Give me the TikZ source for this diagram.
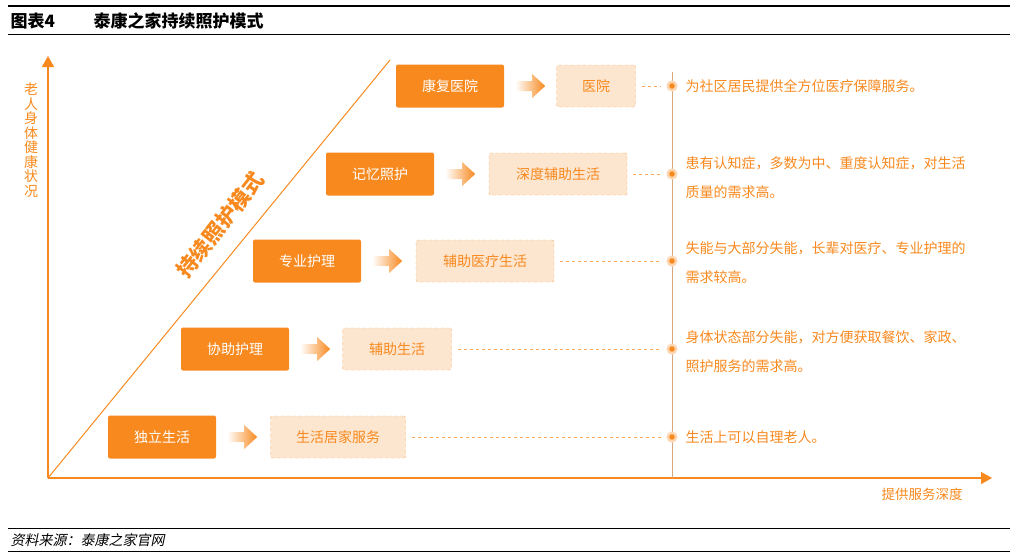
\documentclass[tikz,border=0pt]{standalone}
\usepackage{fontspec}
\setmainfont{Noto Sans CJK SC}
\newfontfamily\slcjk{Noto Sans CJK SC}[FakeSlant=0.2]
\usetikzlibrary{arrows.meta,calc}
\definecolor{og}{HTML}{F7891E}
\definecolor{lt}{HTML}{FDE6D0}
\definecolor{vl}{HTML}{D9A57A}
\begin{document}
\begin{tikzpicture}[x=1pt,y=-1pt,
 dark/.style={fill=og,rounded corners=2pt,minimum width=108pt,minimum height=43pt,text=white,font=\fontsize{14}{16}\selectfont},
 light/.style={fill=lt,draw=og!70,dashed,rounded corners=2pt,minimum height=42pt,text=og,font=\fontsize{14}{16}\selectfont},
 dot/.style={circle,fill=og,draw=og!35,line width=2.5pt,inner sep=3pt},
 desc/.style={anchor=west,text=og,font=\fontsize{14}{29}\selectfont,align=left},
 dl/.style={og!70,dashed,line width=0.7pt}]
\useasboundingbox (0,0) rectangle (1017,558);
\draw[line width=1.2pt] (8,6) -- (1010,6);
\draw[line width=1pt] (8,34) -- (1010,34);
\node[anchor=west,font=\bfseries\fontsize{17}{19}\selectfont] (t1) at (7,21) {图表4};
\node[anchor=west,font=\bfseries\fontsize{17}{19}\selectfont] (t2) at (90,21) {泰康之家持续照护模式};
\draw[line width=0.8pt] (8,528) -- (1010,528);
\draw[line width=0.8pt] (8,551) -- (1010,551);
\node[anchor=west,font=\slcjk\fontsize{14}{16}\selectfont] (src) at (7,540) {资料来源：泰康之家官网};
% axes
\coordinate (o) at (48,478);
\coordinate (ytop) at (48,56);
\coordinate (xend) at (992,478);
\draw[og,line width=1.5pt,-{Triangle[length=11pt,width=12pt]}] (o) -- (ytop);
\draw[og,line width=1.5pt,-{Triangle[length=11pt,width=12pt]}] (o) -- (xend);
\coordinate (dtop) at (390,60);
\draw[og,line width=1pt] (o) -- (dtop);
\node[text=og,font=\fontsize{14}{14.5}\selectfont,align=center,inner sep=0] (ylab) at (31,140) {老\\人\\身\\体\\健\\康\\状\\况};
\node[text=og,font=\fontsize{13.5}{15}\selectfont] (xlab) at (922,494) {提供服务深度};
\node[text=og,font=\bfseries\fontsize{21}{23}\selectfont,rotate=52] (diag) at (220,225) {持续照护模式};
% timeline
\coordinate (vt) at (672,72);
\coordinate (vb) at (672,478);
\draw[vl,line width=1pt] (vt) -- (vb);
% rows
\foreach \i/\dx/\lx/\lw/\y/\dn/\ln in {
 1/450/596/79/86/康复医院/医院,
 2/380/558/138/174/记忆照护/深度辅助生活,
 3/307/485/138/261/专业护理/辅助医疗生活,
 4/235/397/109/349/协助护理/辅助生活,
 5/162/338/135/437/独立生活/生活居家服务}{
 \node[dark] (d\i) at (\dx,\y) {\dn};
 \node[light,minimum width=\lw pt] (l\i) at (\lx,\y) {\ln};
 \node[dot] (p\i) at (672,\y) {};
 \shade[left color=white,right color=og,shading angle=90] ($(d\i.east)+(11,-5)$) -- ++(17,0) -- ++(0,-7) -- ++(13,12) -- ++(-13,12) -- ++(0,-7) -- ++(-17,0) -- cycle;
 \draw[dl] ([xshift=6pt]l\i.east) -- ([xshift=-6pt]p\i.west);
}
\node[desc] (e1) at (682,86) {为社区居民提供全方位医疗保障服务。};
\node[desc] (e2) at (682,178) {患有认知症，多数为中、重度认知症，对生活\\质量的需求高。};
\node[desc] (e3) at (682,263) {失能与大部分失能，长辈对医疗、专业护理的\\需求较高。};
\node[desc] (e4) at (682,352) {身体状态部分失能，对方便获取餐饮、家政、\\照护服务的需求高。};
\node[desc] (e5) at (682,437) {生活上可以自理老人。};
\end{tikzpicture}
\end{document}
